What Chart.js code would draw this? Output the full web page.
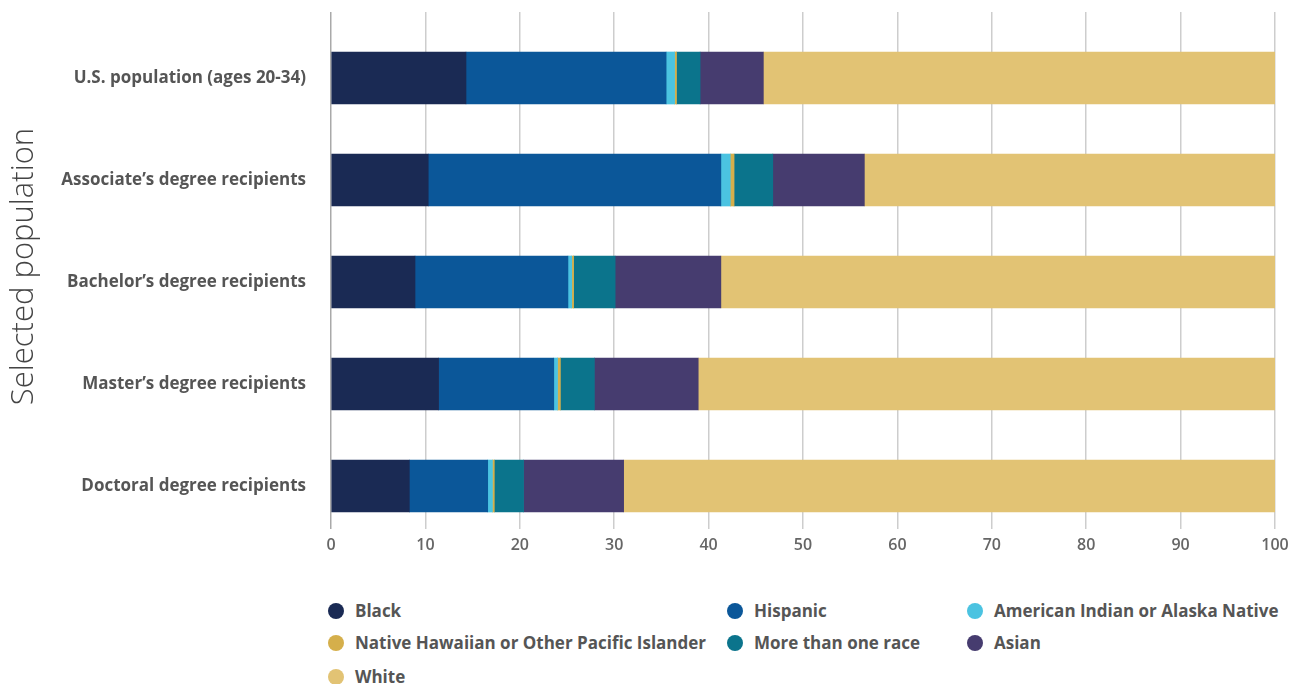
<!DOCTYPE html>
<html>
<head>
<meta charset="utf-8">
<script src="https://cdn.jsdelivr.net/npm/chart.js@4/dist/chart.umd.min.js"></script>
<style>
  body { margin: 0; background: #fff; font-family: "Open Sans", sans-serif; }
  #wrap { position: relative; width: 1299px; height: 570px; }
  #legend { position: absolute; left: 328px; top: 598px; width: 960px; }
  .item { position: absolute; display: flex; align-items: center; font-weight: 700; font-size: 17px; color: #555; white-space: nowrap; }
  .dot { width: 16px; height: 16px; border-radius: 50%; margin-right: 11px; }
</style>
</head>
<body>
<div id="wrap"><canvas id="myChart"></canvas></div>
<div id="legend"></div>
<script>
// categories (top to bottom)
const populations = [
  "U.S. population (ages 20-34)",
  "Associate\u2019s degree recipients",
  "Bachelor\u2019s degree recipients",
  "Master\u2019s degree recipients",
  "Doctoral degree recipients",
];

// percent shares, one array per group
const black    = [14.3, 10.3,  8.9, 11.4,  8.3];
const hispanic = [21.2, 31.0, 16.2, 12.2,  8.3];
const aian     = [ 0.9,  1.0,  0.4,  0.4,  0.5];
const nhpi     = [ 0.2,  0.4,  0.2,  0.3,  0.2];
const multi    = [ 2.5,  4.1,  4.4,  3.6,  3.1];
const asian    = [ 6.7,  9.7, 11.2, 11.0, 10.6];
const white    = [54.2, 43.5, 58.7, 61.1, 69.0];

const xTicks = [0, 10, 20, 30, 40, 50, 60, 70, 80, 90, 100];

const series = [
  { label: "Black", data: black, color: "#1a2a54" },
  { label: "Hispanic", data: hispanic, color: "#0b5799" },
  { label: "American Indian or Alaska Native", data: aian, color: "#4bc3e1" },
  { label: "Native Hawaiian or Other Pacific Islander", data: nhpi, color: "#d5af4b" },
  { label: "More than one race", data: multi, color: "#0b748c" },
  { label: "Asian", data: asian, color: "#463c6f" },
  { label: "White", data: white, color: "#e2c374" },
];

const datasets = series.map((s) => ({
  label: s.label,
  data: s.data.map((v, i) => ({ x: v, y: i })),
  backgroundColor: s.color,
  borderWidth: 0,
  barThickness: 52,
}));

const canvas = document.getElementById("myChart");
canvas.width = 1299;
canvas.height = 570;

new Chart(canvas, {
  type: "bar",
  data: { datasets },
  options: {
    indexAxis: "y",
    responsive: false,
    animation: false,
    layout: { padding: { top: 12, right: 24, left: 0, bottom: 0 } },
    plugins: { legend: { display: false }, tooltip: { enabled: false } },
    scales: {
      x: {
        type: "linear",
        stacked: true,
        min: 0,
        max: 100,
        afterBuildTicks: (scale) => { scale.ticks = xTicks.map((v) => ({ value: v })); },
        afterFit: (scale) => { scale.height = 49; },
        grid: {
          color: (ctx) => (ctx.index === 0 ? "#a9a9a9" : "#cdcdcd"),
          lineWidth: 1.5,
          tickLength: 8,
        },
        border: { display: false },
        ticks: {
          color: "#666",
          padding: 7,
          font: { family: "Open Sans", size: 16, weight: 600 },
        },
      },
      y: {
        type: "linear",
        stacked: true,
        reverse: true,
        offset: false,
        min: -0.647,
        max: 4.343,
        afterBuildTicks: (scale) => { scale.ticks = populations.map((_, i) => ({ value: i })); },
        afterFit: (scale) => {
          scale.width = 331;
          scale.paddingTop = 0;
          scale.paddingBottom = 0;
        },
        grid: { display: false, drawTicks: false, offset: false },
        border: { display: false },
        ticks: {
          color: "#555",
          padding: 25,
          font: { family: "Open Sans", size: 17, weight: 700 },
          callback: (v) => populations[v] ?? "",
        },
        title: {
          display: true,
          text: "Selected population",
          color: "#444",
          padding: { top: 6, bottom: 0 },
          font: { family: "Open Sans", size: 31, weight: 300 },
        },
      },
    },
  },
});

// legend, three columns
const legend = document.getElementById("legend");
const colX = [0, 399, 639];
const rowY = [1, 33, 67];
series.forEach((s, i) => {
  const item = document.createElement("div");
  item.className = "item";
  item.style.left = colX[i % 3] + "px";
  item.style.top = rowY[Math.floor(i / 3)] + "px";
  const dot = document.createElement("span");
  dot.className = "dot";
  dot.style.background = s.color;
  const txt = document.createElement("span");
  txt.textContent = s.label;
  item.append(dot, txt);
  legend.appendChild(item);
});
</script>
</body>
</html>
